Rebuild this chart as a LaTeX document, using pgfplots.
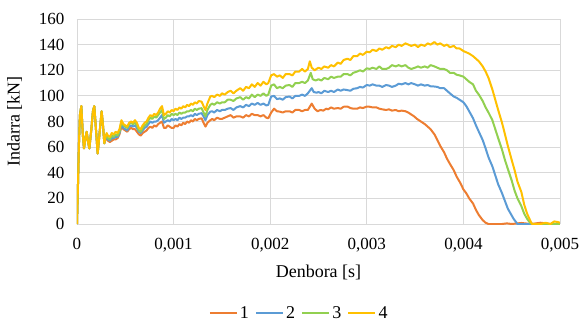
\documentclass[border=0pt]{standalone}
\usepackage{pgfplots}
\pgfplotsset{compat=1.18}
\usepackage{fontspec}
\setmainfont{Liberation Serif}
\definecolor{c1}{HTML}{ED7D31}
\definecolor{c2}{HTML}{5B9BD5}
\definecolor{c3}{HTML}{92D050}
\definecolor{c4}{HTML}{FFC000}
\definecolor{gridc}{HTML}{D9D9D9}
\begin{document}
\begin{tikzpicture}
\path[use as bounding box] (-77pt,-98pt) rectangle (502pt,224pt);
\begin{axis}[
  at={(0pt,0pt)}, anchor=origin,
  scale only axis, width=483pt, height=205pt,
  xmin=0, xmax=0.005, ymin=0, ymax=160,
  xtick={0,0.001,0.002,0.003,0.004,0.005},
  xticklabels={0,{0,001},{0,002},{0,003},{0,004},{0,005}},
  ytick={0,20,...,160},
  /pgf/number format/assume math mode=true,
  scaled x ticks=false,
  grid=major, major grid style={gridc, line width=0.8pt},
  axis line style={draw=none},
  tick style={draw=none},
  ticklabel style={font=\fontsize{17}{20}\selectfont},
  xticklabel style={yshift=-11pt},
  yticklabel style={xshift=-9pt},
  xlabel={Denbora [s]}, ylabel={Indarra [kN]},
  label style={font=\fontsize{18}{21}\selectfont},
  xlabel style={yshift=-6pt},
  ylabel style={yshift=10pt},
  legend columns=4,
  legend style={at={(0.46,-0.435)}, anchor=center, draw=none, fill=none,
    font=\fontsize{18}{21}\selectfont,
    /tikz/every odd column/.append style={column sep=0pt},
    /tikz/every even column/.append style={column sep=4pt}},
  legend image code/.code={\draw[#1, line width=2.2pt] (0pt,0pt) -- (27pt,0pt);},
  every axis plot/.append style={line width=2pt, line join=round},
]
\addplot[c1] coordinates {
(0,0) (0.00001,30) (0.00002,62) (0.00003,85) (0.000045,92) (0.00006,70) (0.0000725,59) (0.000085,66) (0.0001,72) (0.000115,64) (0.000128,59) (0.00015,75) (0.000165,88) (0.000179,92) (0.0002,70) (0.000214,55) (0.00023,68) (0.000255,88) (0.00027,76) (0.000283,63) (0.000295,66) (0.000307,67)
(0.00032,65) (0.00034,64) (0.00036,65) (0.00038,66) (0.0004,66) (0.00042,67) (0.00044,70) (0.00046,76) (0.00048,74) (0.0005,73) (0.00052,72) (0.00054,74) (0.00056,75) (0.00058,74) (0.0006,74) (0.00062,72) (0.00064,70) (0.00066,69) (0.00068,71) (0.0007,72) (0.00072,73) (0.00074,75) (0.00076,76) (0.00078,75) (0.0008,77) (0.00082,76) (0.00084,78) (0.00086,79) (0.00088,80) (0.0009,75) (0.00092,75) (0.00094,77) (0.00096,76) (0.00098,75) (0.001,75) (0.00102,77) (0.00104,76) (0.00106,78) (0.00108,77) (0.0011,79) (0.00112,78) (0.00114,80) (0.00116,79) (0.00118,81) (0.0012,80) (0.00122,82) (0.00124,81) (0.00126,82) (0.00129,82.5) (0.00131,79) (0.00133,76) (0.00135,79) (0.00138,81) (0.0014,82) (0.00142,81) (0.00145,83) (0.00148,82) (0.0015,82) (0.00153,83) (0.00156,84) (0.00159,85) (0.00162,83) (0.00165,84) (0.00169,84) (0.00172,83) (0.00175,85) (0.00178,84) (0.00181,86) (0.00184,85) (0.00187,85) (0.0019,84) (0.00193,85) (0.00196,83) (0.00198,82.5) (0.00201,87) (0.00204,90) (0.00207,88) (0.0021,87.7) (0.00213,87) (0.00216,88) (0.0022,88) (0.00223,87) (0.00226,89) (0.0023,89) (0.00233,88) (0.00236,89) (0.00239,89) (0.00243,94) (0.00246,90) (0.00249,88) (0.00252,89) (0.00255,88.5) (0.00258,90) (0.0026,89.5) (0.00263,91) (0.00266,90) (0.0027,90.5) (0.00273,90) (0.00276,91.5) (0.0028,91.7) (0.00283,90.5) (0.00286,90) (0.0029,90) (0.00293,91) (0.00296,90.5) (0.003,91.7) (0.00303,91.5) (0.00306,91) (0.0031,91) (0.00313,90) (0.00316,89.5) (0.0032,89) (0.00323,89.5) (0.00326,88.5) (0.0033,89) (0.00333,88) (0.00336,88.5) (0.0034,88) (0.00343,87) (0.00346,85.5) (0.00349,84) (0.00352,82) (0.00355,80.5) (0.00358,79) (0.0036,78) (0.00363,76) (0.00366,74) (0.0037,70) (0.00373,65.6) (0.00376,61) (0.0038,56) (0.00383,51) (0.00386,47) (0.0039,42) (0.00393,37) (0.00397,31.8) (0.004,27) (0.00403,24) (0.00406,20) (0.0041,16) (0.00413,11) (0.00416,7) (0.0042,3) (0.00423,1) (0.00426,0) (0.0044,0) (0.00445,0.5) (0.0045,0) (0.0046,0.8) (0.0047,0) (0.0048,1) (0.0049,0) (0.005,0)
};
\addlegendentry{1}
\addplot[c2] coordinates {
(0,0) (0.00001,30) (0.00002,62) (0.00003,85) (0.000045,92) (0.00006,70) (0.0000725,59) (0.000085,66) (0.0001,72) (0.000115,64) (0.000128,59) (0.00015,75) (0.000165,88) (0.000179,92) (0.0002,70) (0.000214,55) (0.00023,68) (0.000255,88) (0.00027,76) (0.000283,63) (0.000295,67) (0.000307,68)
(0.00032,66) (0.00034,65) (0.00036,67) (0.00038,67) (0.0004,68) (0.00042,68) (0.00044,71) (0.00046,78) (0.00048,75) (0.0005,74) (0.00052,73) (0.00054,76) (0.00056,77) (0.00058,76) (0.0006,77) (0.00062,75) (0.00064,72) (0.00066,71) (0.00068,73) (0.0007,75) (0.00072,76) (0.00074,78) (0.00076,80) (0.00078,79) (0.0008,80) (0.00082,80) (0.00084,81) (0.00086,83) (0.00088,85) (0.0009,79) (0.00092,80) (0.00094,81) (0.00096,80) (0.00098,82) (0.001,81) (0.00102,82) (0.00104,81) (0.00106,83) (0.00108,82) (0.0011,83) (0.00112,83) (0.00114,84) (0.00116,84) (0.00118,85) (0.0012,84) (0.00122,86) (0.00124,85) (0.00126,86) (0.00129,86.5) (0.00131,84) (0.00133,81) (0.00135,85) (0.00138,87.7) (0.0014,88) (0.00142,87) (0.00145,89) (0.00148,88) (0.0015,89) (0.00153,89) (0.00156,90) (0.00159,90.5) (0.00162,89) (0.00165,91) (0.00169,92) (0.00172,91) (0.00175,93) (0.00178,92) (0.00181,94) (0.00184,93) (0.00187,94.5) (0.0019,93) (0.00193,94) (0.00196,92.5) (0.00198,93) (0.00201,99.5) (0.00204,100) (0.00207,97.5) (0.0021,98) (0.00213,97) (0.00216,99) (0.0022,99.5) (0.00223,98) (0.00226,100) (0.0023,100) (0.00233,101) (0.00236,100) (0.00239,102) (0.00243,106) (0.00245,103) (0.00248,102.5) (0.0025,103) (0.00253,102) (0.00256,104) (0.0026,103) (0.00263,104) (0.00266,103) (0.0027,105) (0.00273,104) (0.00276,105) (0.0028,104.5) (0.00283,104) (0.00286,105.5) (0.0029,106) (0.00293,107) (0.00296,106.5) (0.003,108.5) (0.00303,108) (0.00306,109) (0.0031,108) (0.00313,108) (0.00316,107) (0.0032,108.5) (0.00323,108) (0.00326,107) (0.0033,108) (0.00333,109.5) (0.00336,109) (0.0034,110) (0.00343,109) (0.00346,110) (0.0035,109) (0.00353,108) (0.00356,109) (0.0036,108) (0.00363,108.5) (0.00366,107.5) (0.0037,107.3) (0.00373,107) (0.00376,106) (0.0038,106) (0.00383,104) (0.00386,102) (0.0039,99.5) (0.00393,98.5) (0.00396,97) (0.004,95) (0.00403,92) (0.00406,88) (0.0041,82.5) (0.00413,77) (0.00416,72) (0.0042,65.5) (0.00423,59) (0.00426,52) (0.0043,45) (0.00433,38) (0.00436,31) (0.0044,24) (0.00443,18) (0.00446,12) (0.00449,8) (0.00452,4) (0.00456,0) (0.005,0)
};
\addlegendentry{2}
\addplot[c3] coordinates {
(0,0) (0.00001,30) (0.00002,62) (0.00003,85) (0.000045,92) (0.00006,70) (0.0000725,59) (0.000085,66) (0.0001,72) (0.000115,64) (0.000128,59) (0.00015,75) (0.000165,88) (0.000179,92) (0.0002,70) (0.000214,55) (0.00023,68) (0.000255,88) (0.00027,76) (0.000283,63) (0.000295,68) (0.000307,70)
(0.00032,67) (0.00034,66) (0.00036,69) (0.00038,68) (0.0004,70) (0.00042,69) (0.00044,72) (0.00046,80) (0.00048,77) (0.0005,76) (0.00052,75) (0.00054,78) (0.00056,79) (0.00058,78) (0.0006,79) (0.00062,77) (0.00064,73) (0.00066,72) (0.00068,75) (0.0007,77) (0.00072,78) (0.00074,81) (0.00076,83) (0.00078,82) (0.0008,84) (0.00082,83) (0.00084,85) (0.00086,87) (0.00088,89) (0.0009,82) (0.00092,83) (0.00094,85) (0.00096,84) (0.00098,86) (0.001,85) (0.00102,86) (0.00104,85) (0.00106,87) (0.00108,86) (0.0011,87) (0.00112,87) (0.00114,88) (0.00116,88) (0.00118,89) (0.0012,88) (0.00122,90) (0.00124,89) (0.00126,90) (0.00129,90.4) (0.00131,87) (0.00133,84) (0.00135,89) (0.00138,93) (0.0014,94) (0.00142,93) (0.00145,95) (0.00148,94) (0.0015,95) (0.00153,95) (0.00156,97) (0.00159,97) (0.00162,96) (0.00165,98) (0.00169,99) (0.00172,97) (0.00175,99) (0.00178,98) (0.00181,101) (0.00184,99) (0.00187,101) (0.0019,100) (0.00193,102) (0.00196,100) (0.00198,101) (0.00201,108) (0.00204,109) (0.00207,106) (0.0021,107) (0.00213,106) (0.00216,108) (0.0022,108.5) (0.00223,107) (0.00226,110) (0.0023,110) (0.00233,111) (0.00236,110) (0.00239,112) (0.00242,118) (0.00244,113) (0.00247,112) (0.0025,113) (0.00253,112) (0.00256,114) (0.0026,113) (0.00263,115) (0.00266,114) (0.0027,115) (0.00273,115) (0.00276,117) (0.0028,117) (0.00283,116) (0.00286,118) (0.0029,119) (0.00293,120) (0.00296,119) (0.003,121.5) (0.00303,121) (0.00306,122) (0.0031,121) (0.00313,123) (0.00316,121) (0.0032,121) (0.00323,122) (0.00326,124) (0.0033,123) (0.00333,124) (0.00336,123) (0.0034,124) (0.00343,122) (0.00346,121) (0.0035,122) (0.00353,123) (0.00356,122) (0.0036,123) (0.00363,122) (0.00366,124) (0.0037,123) (0.00373,122) (0.00376,121) (0.0038,121) (0.00383,120) (0.00386,118) (0.0039,118) (0.00393,116.5) (0.00396,116) (0.004,115) (0.00403,113) (0.00406,111) (0.0041,109) (0.00413,104) (0.00416,101) (0.0042,96) (0.00423,91) (0.00426,87) (0.0043,81) (0.00433,74) (0.00436,67) (0.0044,58) (0.00443,50) (0.00446,43) (0.0045,34) (0.00453,26) (0.00456,20) (0.0046,14) (0.00463,8) (0.00466,4) (0.00469,1) (0.00472,0) (0.005,0)
};
\addlegendentry{3}
\addplot[c4] coordinates {
(0,0) (0.00001,30) (0.00002,62) (0.00003,85) (0.000045,92) (0.00006,70) (0.0000725,59) (0.000085,66) (0.0001,72) (0.000115,64) (0.000128,59) (0.00015,75) (0.000165,88) (0.000179,92) (0.0002,70) (0.000214,55) (0.00023,68) (0.000255,88) (0.00027,76) (0.000283,63) (0.000295,68) (0.000307,71)
(0.00032,69) (0.00034,68) (0.00036,71) (0.00038,70) (0.0004,72) (0.00042,71) (0.00044,74) (0.00046,81) (0.00048,78) (0.0005,77) (0.00052,76) (0.00054,79) (0.00056,80) (0.00058,79) (0.0006,81) (0.00062,79) (0.00064,75) (0.00066,74) (0.00068,77) (0.0007,79) (0.00072,80) (0.00074,83) (0.00076,85) (0.00078,84) (0.0008,86) (0.00082,85) (0.00084,87) (0.00086,90) (0.00088,92) (0.0009,85) (0.00092,86) (0.00094,88) (0.00096,87) (0.00098,89) (0.001,88) (0.00102,90) (0.00104,89) (0.00106,91) (0.00108,90) (0.0011,92) (0.00112,91) (0.00114,93) (0.00116,92) (0.00118,94) (0.0012,93) (0.00122,95) (0.00124,94) (0.00126,96) (0.00129,95.5) (0.00131,92) (0.00133,89) (0.00135,94) (0.00138,99.5) (0.0014,100) (0.00142,99) (0.00145,101) (0.00148,100) (0.0015,102) (0.00153,101) (0.00156,103) (0.00159,104) (0.00162,102) (0.00165,104) (0.00169,106) (0.00172,104) (0.00175,107) (0.00178,106) (0.00181,109) (0.00184,107) (0.00187,110) (0.0019,108) (0.00193,111) (0.00196,109) (0.00198,110) (0.00201,116) (0.00204,117) (0.00207,115) (0.0021,116) (0.00213,114) (0.00216,117) (0.0022,117) (0.00223,116) (0.00226,119) (0.0023,119) (0.00233,121) (0.00236,119) (0.00239,121) (0.00241,127) (0.00243,122) (0.00246,120) (0.0025,122) (0.00253,121) (0.00256,123) (0.0026,122) (0.00263,124) (0.00266,123) (0.0027,126) (0.00273,125) (0.00276,128) (0.0028,129) (0.00283,128) (0.00286,131) (0.0029,131) (0.00293,133) (0.00296,132) (0.003,134.5) (0.00303,134) (0.00306,136) (0.0031,135) (0.00313,137) (0.00316,136) (0.0032,138) (0.00323,137) (0.00326,139) (0.0033,138) (0.00333,140) (0.00336,139) (0.0034,141) (0.00343,140) (0.00346,139) (0.0035,140) (0.00353,138) (0.00356,140) (0.0036,139) (0.00363,141) (0.00366,140) (0.0037,142) (0.00373,140) (0.00376,141) (0.0038,139) (0.00383,140) (0.00386,138) (0.0039,139) (0.00393,137) (0.00396,137) (0.004,135) (0.00403,134) (0.00406,133) (0.0041,131) (0.00413,129) (0.00416,127) (0.0042,123) (0.00423,119) (0.00426,114) (0.0043,105) (0.00433,97) (0.00436,89) (0.0044,79) (0.00443,70) (0.00446,61) (0.0045,50) (0.00453,42) (0.00456,33) (0.0046,25) (0.00463,15) (0.00466,8) (0.00469,3) (0.00471,0) (0.0048,0) (0.00485,1) (0.0049,0) (0.00494,2) (0.00498,1.5) (0.005,1)
};
\addlegendentry{4}
\end{axis}
\end{tikzpicture}
\end{document}
